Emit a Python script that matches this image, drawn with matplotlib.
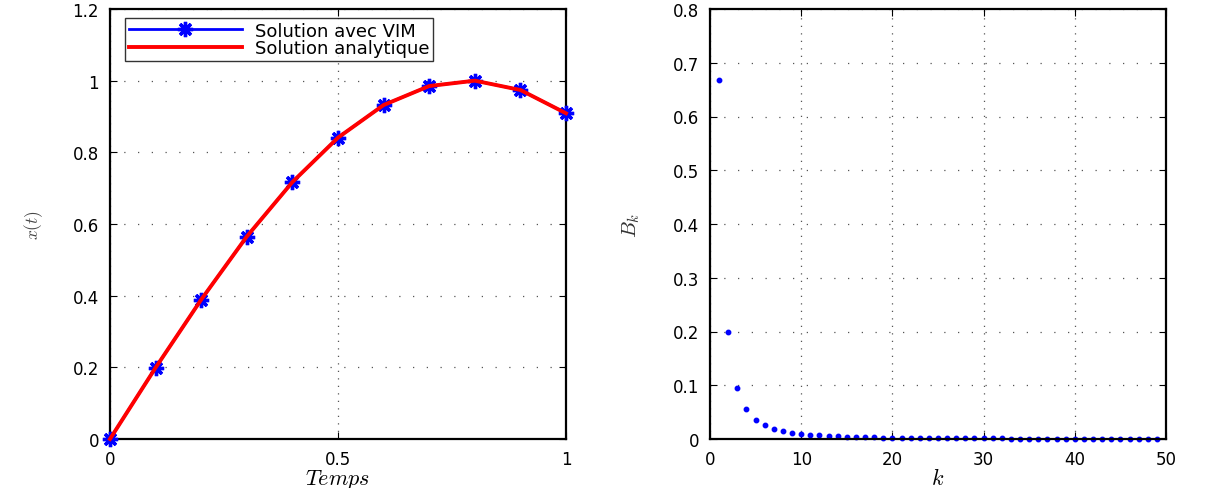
import matplotlib
matplotlib.use("Agg")
import matplotlib.pyplot as plt

# Left panel: VIM solution vs analytic solution
t = [0.0, 0.1, 0.2, 0.3, 0.4, 0.5, 0.6, 0.7, 0.8, 0.9, 1.0]
x_vim = [0.0, 0.199, 0.389, 0.565, 0.717, 0.841, 0.932, 0.985, 1.0, 0.974, 0.909]
x_exact = [0.0, 0.199, 0.389, 0.565, 0.717, 0.841, 0.932, 0.985, 1.0, 0.974, 0.909]

# Right panel: coefficients B_k
k = list(range(1, 50))
B = [0.667, 0.200, 0.095, 0.056, 0.036, 0.026, 0.019, 0.015, 0.012, 0.0095,
     0.0079, 0.0067, 0.0057, 0.0049, 0.0043, 0.0038, 0.0034, 0.0030, 0.0027, 0.0024,
     0.0022, 0.0020, 0.0019, 0.0017, 0.0016, 0.0015, 0.0014, 0.0013, 0.0012, 0.0011,
     0.0010, 0.0010, 0.0009, 0.0009, 0.0008, 0.0008, 0.0007, 0.0007, 0.0007, 0.0006,
     0.0006, 0.0006, 0.0005, 0.0005, 0.0005, 0.0005, 0.0004, 0.0004, 0.0004]

plt.rcParams['font.family'] = ['DejaVu Sans']
plt.rcParams['mathtext.fontset'] = 'cm'

W, H = 1206, 489
fig = plt.figure(figsize=(W / 100, H / 100), dpi=100)

def box(l, r, top, bot):
    return [l / W, 1 - bot / H, (r - l) / W, (bot - top) / H]

ax1 = fig.add_axes(box(110, 566, 10, 440))
ax2 = fig.add_axes(box(710, 1166, 10, 440))

for ax in (ax1, ax2):
    for s in ax.spines.values():
        s.set_linewidth(1.6)
    ax.tick_params(direction='in', top=True, right=True, length=5, width=0.8,
                   labelsize=12, pad=8)
    # vertical grid lines: dense dots; horizontal grid lines: sparser dots
    ax.xaxis.grid(True, color='#555555', linestyle=(0, (1, 5)), linewidth=0.9)
    ax.yaxis.grid(True, color='#555555', linestyle=(0, (1, 10)), linewidth=0.9)
    ax.set_axisbelow(True)

# Left panel
ax1.plot(t, x_vim, color='#0000ff', linewidth=2, marker=(8, 2, 0),
         markersize=11, markeredgewidth=2.4, markeredgecolor='#0000ff',
         label='Solution avec VIM', clip_on=False, zorder=3)
ax1.plot(t, x_exact, color='#ff0000', linewidth=2.8,
         label='Solution analytique', clip_on=False, zorder=4)
ax1.set_xlim(0, 1)
ax1.set_ylim(0, 1.2)
ax1.set_xticks([0, 0.5, 1])
ax1.set_xticklabels(['0', '0.5', '1'])
ax1.set_yticks([0, 0.2, 0.4, 0.6, 0.8, 1.0, 1.2])
ax1.set_yticklabels(['0', '0.2', '0.4', '0.6', '0.8', '1', '1.2'])
ax1.set_xlabel('$Temps$', fontsize=16, labelpad=-1)
ax1.set_ylabel('$x(t)$', fontsize=12.5, labelpad=20, color='#444444')
leg = ax1.legend(loc='upper left', bbox_to_anchor=(15 / 456, 1 - 9 / 430),
                 fontsize=13, frameon=True, fancybox=False, borderpad=0.2,
                 labelspacing=-0.02, handlelength=6.3, handletextpad=0.7,
                 borderaxespad=0.0)
leg.get_frame().set_edgecolor('black')
leg.get_frame().set_linewidth(1.0)

# Right panel
ax2.plot(k, B, linestyle='none', marker='o', markersize=3.2,
         color='#0000ff', clip_on=False)
ax2.set_xlim(0, 50)
ax2.set_ylim(0, 0.8)
ax2.set_xticks([0, 10, 20, 30, 40, 50])
ax2.set_yticks([0, 0.1, 0.2, 0.3, 0.4, 0.5, 0.6, 0.7, 0.8])
ax2.set_yticklabels(['0', '0.1', '0.2', '0.3', '0.4', '0.5', '0.6', '0.7', '0.8'])
ax2.set_xlabel('$k$', fontsize=16, labelpad=-1)
ax2.set_ylabel('$B_k$', fontsize=15, labelpad=22, color='#333333')

fig.savefig('out.png', dpi=100)
